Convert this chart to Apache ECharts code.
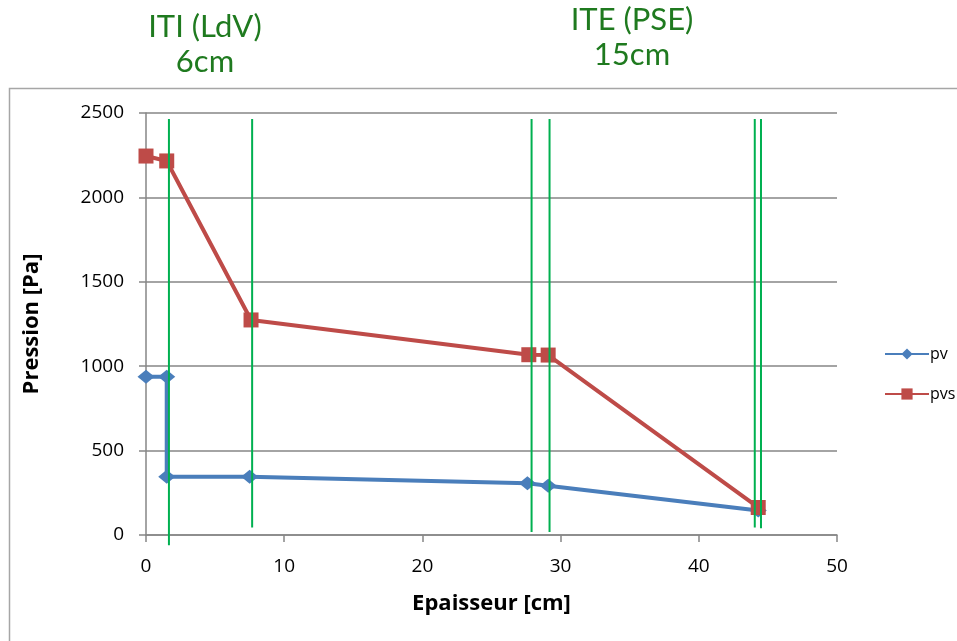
<!DOCTYPE html>
<html>
<head>
<meta charset="utf-8">
<script src="https://cdn.jsdelivr.net/npm/echarts@6/dist/echarts.min.js"></script>
<style>html,body{margin:0;padding:0;background:#fff}#c{width:957px;height:641px}</style>
</head>
<body>
<div id="c"></div>
<script>
// Data
var pvX = [0, 1.5, 1.5, 7.5, 27.6, 29.1, 44.3];
var pvY = [937, 937, 345, 345, 306, 292, 145];
var pvsX = [0, 1.5, 7.6, 27.7, 29.1, 44.3];
var pvsY = [2245, 2216, 1274, 1068, 1066, 163];
var greenX = [1.66, 7.68, 27.9, 29.2, 44.05, 44.5];
var greenTop = [2464, 2464, 2464, 2464, 2464, 2464];
var greenBottom = [-60, 45, 18, 18, 45, 40];
var xTicks = [0, 10, 20, 30, 40, 50];
var yTicks = [0, 500, 1000, 1500, 2000, 2500];
var titles = ['ITI (LdV)\n6cm', 'ITE (PSE)\n15cm'];

var font = '"Open Sans", Lato, sans-serif';
var tfont = 'Lato, "Open Sans", sans-serif';
function pairs(xs, ys){ return xs.map(function(x,i){ return [x, ys[i]]; }); }

var series = [
  { name: 'pv', type: 'line', data: pairs(pvX, pvY), symbol: 'diamond', symbolSize: [17, 14],
    lineStyle: { color: '#4a7ebb', width: 4 }, itemStyle: { color: '#4a7ebb' }, z: 3 },
  { name: 'pvs', type: 'line', data: pairs(pvsX, pvsY), symbol: 'rect', symbolSize: 15,
    lineStyle: { color: '#be4b48', width: 4 }, itemStyle: { color: '#be4b48' }, z: 3 }
];
greenX.forEach(function(x, i){
  series.push({ name: 'g' + i, type: 'line', data: [[x, greenTop[i]], [x, greenBottom[i]]],
    symbol: 'none', clip: false, silent: true, z: 4,
    lineStyle: { color: '#00b050', width: 2 } });
});

var chart = echarts.init(document.getElementById('c'));
chart.setOption({
  animation: false,
  grid: { left: 146, top: 113, right: 120, bottom: 106 },
  graphic: [
    { type: 'rect', shape: { x: 9.5, y: 88.5, width: 960, height: 600 },
      style: { fill: 'none', stroke: '#a6a6a6', lineWidth: 1.5 }, z: -1 },
    { type: 'text', x: 205, y: 9, style: { text: titles[0], font: '31px ' + tfont, fill: '#1f7a1f', textAlign: 'center', lineHeight: 35 } },
    { type: 'text', x: 632, y: 2, style: { text: titles[1], font: '31px ' + tfont, fill: '#1f7a1f', textAlign: 'center', lineHeight: 35 } }
  ],
  legend: {
    data: ['pv', 'pvs'], orient: 'vertical', left: 879, top: 341, itemWidth: 44, itemHeight: 14, itemGap: 24,
    textStyle: { fontFamily: font, fontSize: 16, color: '#000', padding: [0, 0, 0, -4] }
  },
  xAxis: {
    type: 'value', min: 0, max: 50, interval: 10,
    name: 'Epaisseur [cm]', nameLocation: 'middle', nameGap: 58,
    nameTextStyle: { fontFamily: font, fontSize: 22, fontWeight: 'bold', color: '#000' },
    axisLine: { show: true, onZero: false, lineStyle: { color: '#868686', width: 1.5 } },
    axisTick: { show: true, inside: false, length: 7, lineStyle: { color: '#868686', width: 1.5 } },
    axisLabel: { fontFamily: font, fontSize: 19, color: '#000', margin: 22 },
    splitLine: { show: false }
  },
  yAxis: {
    type: 'value', min: 0, max: 2500, interval: 500,
    name: 'Pression [Pa]', nameLocation: 'middle', nameGap: 103, nameRotate: 90,
    nameTextStyle: { fontFamily: font, fontSize: 22, fontWeight: 'bold', color: '#000' },
    axisLine: { show: true, lineStyle: { color: '#868686', width: 1.5 } },
    axisTick: { show: true, inside: false, length: 7, lineStyle: { color: '#868686', width: 1.5 } },
    axisLabel: { fontFamily: font, fontSize: 19, color: '#000', margin: 22, formatter: function(v){ return String(v); } },
    splitLine: { show: true, lineStyle: { color: '#868686', width: 1.5 } }
  },
  series: series
});
</script>
</body>
</html>
